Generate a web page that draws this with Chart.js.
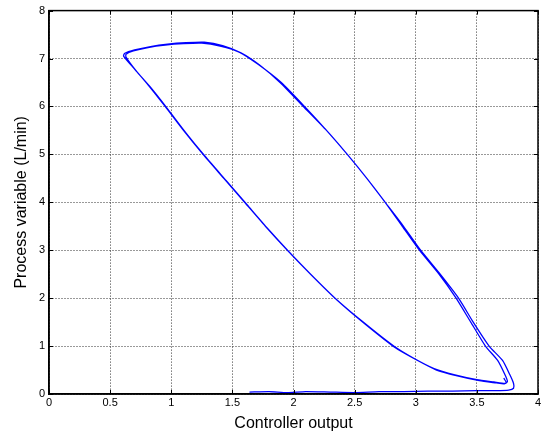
<!DOCTYPE html>
<html>
<head>
<meta charset="utf-8">
<script src="https://cdn.jsdelivr.net/npm/chart.js@4/dist/chart.umd.min.js"></script>
<style>
  html, body { margin: 0; padding: 0; background: #fff; }
  #wrap { width: 546px; height: 436px; }
</style>
</head>
<body>
<div id="wrap"><canvas id="c" width="546" height="436"></canvas></div>
<script>
// hysteresis loop: controller output (x) vs process variable (y)
const outputX = [
  1.64, 1.80, 1.95, 2.10, 2.30, 2.50, 2.70, 2.90, 3.10, 3.30, 3.50, 3.65, 3.76, 3.80, 3.80, 3.77,
  3.71, 3.60, 3.47, 3.35, 3.20, 3.04, 2.90, 2.75, 2.60, 2.44, 2.27, 2.08, 1.89, 1.72, 1.57, 1.42,
  1.27, 1.12, 0.97, 0.83, 0.70, 0.62, 0.61,
  0.70, 0.81, 0.95, 1.10, 1.26, 1.43, 1.60, 1.77, 1.95, 2.14, 2.34, 2.57, 2.82, 2.98, 3.15, 3.32,
  3.50, 3.64, 3.73, 3.75, 3.73,
  3.67, 3.57, 3.45, 3.33, 3.19, 3.03, 2.89, 2.75, 2.60, 2.44, 2.27, 2.09, 1.90, 1.71, 1.56, 1.40,
  1.25, 1.10, 0.95, 0.81, 0.69, 0.63, 0.63,
  0.72, 0.83, 0.97, 1.12, 1.28, 1.45, 1.62, 1.79, 1.97, 2.16, 2.36, 2.59, 2.83, 3.00, 3.17, 3.34,
  3.52, 3.66, 3.72, 3.74, 3.72
];
const processY = [
  0.04, 0.05, 0.03, 0.05, 0.04, 0.03, 0.05, 0.05, 0.06, 0.06, 0.07, 0.07, 0.08, 0.12, 0.22, 0.40,
  0.70, 1.00, 1.50, 2.00, 2.50, 3.00, 3.50, 4.00, 4.50, 5.00, 5.50, 6.00, 6.50, 6.87, 7.12, 7.27,
  7.34, 7.33, 7.30, 7.25, 7.18, 7.11, 7.05,
  6.78, 6.45, 6.00, 5.50, 5.00, 4.50, 4.00, 3.50, 3.00, 2.50, 2.00, 1.50, 1.00, 0.75, 0.53, 0.40,
  0.30, 0.25, 0.22, 0.26, 0.40,
  0.70, 1.00, 1.50, 2.00, 2.50, 3.00, 3.50, 4.00, 4.50, 5.00, 5.50, 6.00, 6.50, 6.88, 7.13, 7.26,
  7.32, 7.31, 7.28, 7.23, 7.16, 7.09, 7.03,
  6.72, 6.40, 5.95, 5.45, 4.95, 4.45, 3.95, 3.45, 2.95, 2.45, 1.95, 1.45, 0.97, 0.72, 0.50, 0.38,
  0.28, 0.23, 0.21, 0.24, 0.33
];
const xTicks = [0, 0.5, 1, 1.5, 2, 2.5, 3, 3.5, 4];
const yTicks = [0, 1, 2, 3, 4, 5, 6, 7, 8];

const points = outputX.map((x, i) => ({ x: x, y: processY[i] }));
const FONT = "'Liberation Sans', Arial, Helvetica, sans-serif";

// MATLAB style box: frame on all four sides plus small inward ticks
const boxPlugin = {
  id: 'box',
  afterDraw(chart) {
    const a = chart.chartArea;
    const ctx = chart.ctx;
    const xs = chart.scales.x, ys = chart.scales.y;
    ctx.save();
    ctx.strokeStyle = '#000';
    ctx.lineWidth = 1;
    ctx.beginPath();
    xTicks.forEach(v => {
      const px = Math.round(xs.getPixelForValue(v)) + 0.5;
      ctx.moveTo(px, a.bottom); ctx.lineTo(px, a.bottom - 4);
      ctx.moveTo(px, a.top); ctx.lineTo(px, a.top + 4);
    });
    yTicks.forEach(v => {
      const py = Math.round(ys.getPixelForValue(v)) + 0.5;
      ctx.moveTo(a.left, py); ctx.lineTo(a.left + 4, py);
      ctx.moveTo(a.right, py); ctx.lineTo(a.right - 4, py);
    });
    ctx.stroke();
    ctx.lineWidth = 1.5;
    ctx.strokeRect(a.left, a.top, a.right - a.left, a.bottom - a.top);
    ctx.restore();
  }
};

new Chart(document.getElementById('c'), {
  type: 'scatter',
  data: {
    datasets: [{
      data: points,
      showLine: true,
      borderColor: '#0000ff',
      borderWidth: 1.3,
      pointRadius: 0,
      tension: 0.2,
      fill: false
    }]
  },
  options: {
    responsive: false,
    animation: false,
    layout: { padding: { top: 8, right: 8, left: 0, bottom: 0 } },
    plugins: { legend: { display: false }, tooltip: { enabled: false } },
    scales: {
      x: {
        type: 'linear',
        min: 0, max: 4,
        afterBuildTicks: s => { s.ticks = xTicks.map(v => ({ value: v })); },
        afterFit: s => { s.height = 42; },
        ticks: { color: '#000', font: { family: FONT, size: 11 }, padding: 2, maxRotation: 0,
                 callback: v => String(v) },
        grid: { color: 'rgba(0,0,0,0.8)', drawTicks: false },
        border: { display: true, color: '#000', width: 1.5, dash: [1, 2] },
        title: { display: true, text: 'Controller output', color: '#000',
                 font: { family: FONT, size: 16 }, padding: { top: 0, bottom: 3 } }
      },
      y: {
        type: 'linear',
        min: 0, max: 8,
        afterBuildTicks: s => { s.ticks = yTicks.map(v => ({ value: v })); },
        afterFit: s => { s.width = 49; },
        ticks: { color: '#000', font: { family: FONT, size: 11 }, padding: 4,
                 callback: v => String(v) },
        grid: { color: 'rgba(0,0,0,0.8)', drawTicks: false },
        border: { display: true, color: '#000', width: 1.5, dash: [1, 2] },
        title: { display: true, text: 'Process variable (L/min)', color: '#000',
                 font: { family: FONT, size: 16 }, padding: { top: 12, bottom: 0 } }
      }
    }
  },
  plugins: [boxPlugin]
});
</script>
</body>
</html>
